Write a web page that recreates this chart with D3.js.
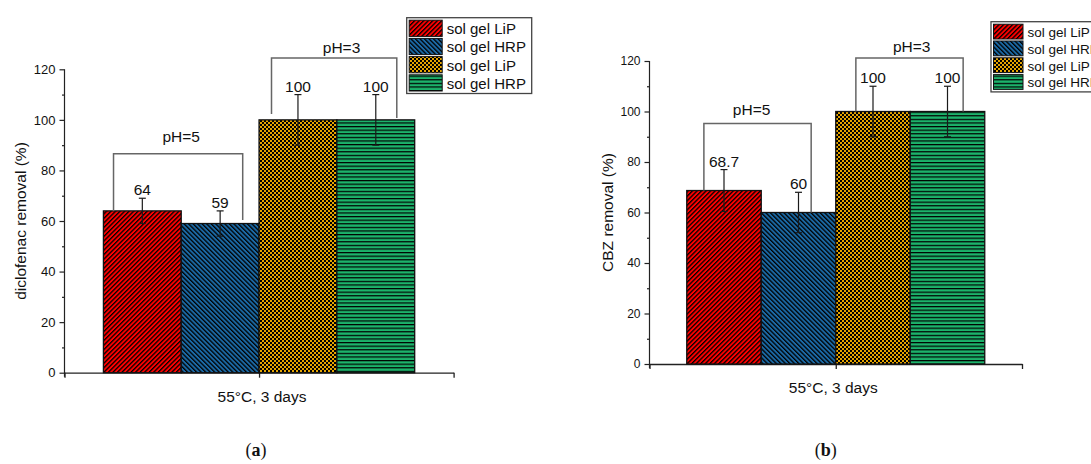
<!DOCTYPE html>
<html>
<head>
<meta charset="utf-8">
<script src="https://cdn.jsdelivr.net/npm/d3@7"></script>
<style>
  body { margin: 0; background: #fff; }
  text { font-family: "Liberation Sans", Arial, sans-serif; fill: #111; }
</style>
</head>
<body>
<div id="drawing_region"></div>
<script>
// ---- data ----
const seriesNames = ["sol gel LiP", "sol gel HRP", "sol gel LiP", "sol gel HRP"];
const groupLabel = "55\u00B0C, 3 days";
const dicloValues = [64, 59, 100, 100];
const dicloErrors = [5, 5, 10, 10];
const dicloLabels = ["64", "59", "100", "100"];
const cbzValues = [68.7, 60, 100, 100];
const cbzErrors = [8.3, 8, 10, 10];
const cbzLabels = ["68.7", "60", "100", "100"];
const majorTicks = [0, 20, 40, 60, 80, 100, 120];
const minorTicks = [10, 30, 50, 70, 90, 110];
const phLabels = ["pH=5", "pH=3"];

const fills = ["#ff0000", "#1b6aa6", "#e5a400", "#1cb36b"];
const patternIds = ["pRed", "pBlue", "pGold", "pGreen"];

const W = 1091, H = 464;
const svg = d3.select("#drawing_region").append("svg")
    .attr("width", W).attr("height", H);
svg.append("rect").attr("width", W).attr("height", H).attr("fill", "#fff");

// ---- hatch patterns ----
const defs = svg.append("defs");
function stripes(id, color, angle, period, lw) {
    const p = defs.append("pattern").attr("id", id)
        .attr("patternUnits", "userSpaceOnUse")
        .attr("width", period).attr("height", period)
        .attr("patternTransform", `rotate(${angle})`);
    p.append("rect").attr("width", period).attr("height", period).attr("fill", color);
    p.append("rect").attr("width", lw).attr("height", period).attr("fill", "#000");
}
stripes("pRed", fills[0], 45, 3.2, 1.3);
stripes("pBlue", fills[1], -45, 3.2, 1.3);
stripes("pGreen", fills[3], 90, 3.6, 1.2);
{
    const p = defs.append("pattern").attr("id", "pGold")
        .attr("patternUnits", "userSpaceOnUse")
        .attr("width", 4).attr("height", 4);
    p.append("rect").attr("width", 4).attr("height", 4).attr("fill", fills[2]);
    p.append("rect").attr("width", 2).attr("height", 2).attr("fill", "#000");
    p.append("rect").attr("x", 2).attr("y", 2).attr("width", 2).attr("height", 2).attr("fill", "#000");
}

function drawPanel(cfg) {
    const g = svg.append("g");
    const y = d3.scaleLinear().domain([0, 120]).range([cfg.bottom, cfg.top]);
    const xAxisScale = d3.scaleLinear().domain([0, 1]).range([cfg.left, cfg.right]);
    const bx = d3.scaleLinear().domain([-0.5, 4.5]).range([cfg.left, cfg.right]);
    const band = d3.scaleBand().domain(d3.range(4)).range([bx(0), bx(4)]).padding(0);

    // y axis
    const ya = g.append("g").attr("transform", `translate(${cfg.left},0)`)
        .call(d3.axisLeft(y).tickValues(majorTicks).tickSize(5).tickPadding(4).tickSizeOuter(0));
    ya.selectAll("text").style("font-size", cfg.tickFont + "px")
        .style("font-family", "'Liberation Sans', Arial, sans-serif").attr("fill", "#222");
    g.append("g").attr("transform", `translate(${cfg.left},0)`)
        .call(d3.axisLeft(y).tickValues(minorTicks).tickSize(2.5).tickFormat("").tickSizeOuter(0))
        .select(".domain").remove();
    ya.select(".domain").attr("d", `M0,${cfg.bottom + 4}V${cfg.top}`);
    g.selectAll(".domain, .tick line").attr("stroke", "#222").attr("stroke-width", 1.2);

    // x axis
    const xa = g.append("g").attr("transform", `translate(0,${cfg.bottom})`)
        .call(d3.axisBottom(xAxisScale).tickValues([0, 0.5, 1]).tickFormat("").tickSize(5).tickSizeOuter(0));
    xa.selectAll(".domain, .tick line").attr("stroke", "#222").attr("stroke-width", 1.3);

    // bars
    g.selectAll("rect.bar").data(cfg.values).enter().append("rect")
        .attr("class", "bar")
        .attr("x", (d, i) => band(i))
        .attr("y", d => y(d))
        .attr("width", band.bandwidth())
        .attr("height", d => y(0) - y(d))
        .attr("fill", (d, i) => `url(#${patternIds[i]})`)
        .attr("stroke", "#111").attr("stroke-width", 1.3);

    // error bars
    const eb = g.selectAll("g.err").data(cfg.values).enter().append("g").attr("class", "err");
    const cx = i => band(i) + band.bandwidth() / 2;
    eb.append("line")
        .attr("x1", (d, i) => cx(i)).attr("x2", (d, i) => cx(i))
        .attr("y1", (d, i) => y(d + cfg.errors[i])).attr("y2", (d, i) => y(d - cfg.errors[i]));
    eb.append("line")
        .attr("x1", (d, i) => cx(i) - 3.5).attr("x2", (d, i) => cx(i) + 3.5)
        .attr("y1", (d, i) => y(d + cfg.errors[i])).attr("y2", (d, i) => y(d + cfg.errors[i]));
    eb.append("line")
        .attr("x1", (d, i) => cx(i) - 3.5).attr("x2", (d, i) => cx(i) + 3.5)
        .attr("y1", (d, i) => y(d - cfg.errors[i])).attr("y2", (d, i) => y(d - cfg.errors[i]));
    eb.selectAll("line").attr("stroke", "#1a1a1a").attr("stroke-width", 1.2);

    // value labels
    g.selectAll("text.val").data(cfg.values).enter().append("text")
        .attr("class", "val")
        .attr("x", (d, i) => cx(i))
        .attr("y", (d, i) => y(d + cfg.errors[i]) - 3)
        .attr("text-anchor", "middle")
        .style("font-size", "15.5px")
        .text((d, i) => cfg.labels[i]);

    // pH brackets
    const bxs = d3.scaleLinear().domain([0, 4]).range([bx(0), bx(4)]);
    cfg.brackets.forEach((b, k) => {
        g.append("path")
            .attr("d", `M${bxs(b.x0)},${y(b.l)}V${y(b.top)}H${bxs(b.x1)}V${y(b.r)}`)
            .attr("fill", "none").attr("stroke", "#666").attr("stroke-width", 1.5);
        g.append("text")
            .attr("x", bxs(b.tx)).attr("y", y(b.top) - b.gap)
            .attr("text-anchor", "middle").style("font-size", "15.5px")
            .text(phLabels[k]);
    });

    // axis titles
    g.append("text")
        .attr("transform", `translate(${cfg.ytX},${(cfg.top + cfg.bottom) / 2}) rotate(-90)`)
        .attr("text-anchor", "middle").style("font-size", "15.5px")
        .text(cfg.yTitle);
    g.append("text")
        .attr("x", xAxisScale(0.5) + cfg.xtDx).attr("y", cfg.bottom + 29)
        .attr("text-anchor", "middle").style("font-size", "15.5px")
        .text(groupLabel);

    // legend
    const L = cfg.legend;
    g.append("rect")
        .attr("x", L.x).attr("y", L.y).attr("width", L.w).attr("height", L.rowH * 4 + 3)
        .attr("fill", "#fff").attr("stroke", "#444").attr("stroke-width", 1.3);
    seriesNames.forEach((name, i) => {
        const ry = L.y + 2 + i * L.rowH;
        g.append("rect")
            .attr("x", L.x + 2.5).attr("y", ry + 0.5)
            .attr("width", L.sw).attr("height", L.rowH - 2)
            .attr("fill", `url(#${patternIds[i]})`)
            .attr("stroke", "#111").attr("stroke-width", 1);
        g.append("text")
            .attr("x", L.x + L.sw + 7).attr("y", ry + L.rowH / 2 + L.font * 0.36)
            .style("font-size", L.font + "px")
            .text(name);
    });

    // caption
    const cap = svg.append("text")
        .attr("x", xAxisScale(0.5) + cfg.capDx).attr("y", 456)
        .attr("text-anchor", "middle")
        .style("font-family", "'Liberation Serif', 'DejaVu Serif', serif")
        .style("font-size", "18px");
    cap.append("tspan").text("(");
    cap.append("tspan").style("font-weight", "bold").text(cfg.caption);
    cap.append("tspan").text(")");
}

drawPanel({
    left: 64.5, right: 453.6, top: 69.3, bottom: 372.7,
    tickFont: 13, ytX: 26, xtDx: 3, capDx: -3, caption: "a",
    values: dicloValues, errors: dicloErrors, labels: dicloLabels,
    yTitle: "diclofenac removal (%)",
    brackets: [
        { x0: 0.13, x1: 1.79, top: 86.6, l: 64, r: 60.4, tx: 1.0, gap: 12 },
        { x0: 2.16, x1: 3.77, top: 124.5, l: 102.3, r: 100.7, tx: 3.06, gap: 4.7 }
    ],
    legend: { x: 406.7, y: 17.7, w: 125, rowH: 18.2, sw: 33, font: 15 }
});

drawPanel({
    left: 649.5, right: 1022, top: 61, bottom: 364,
    tickFont: 12, ytX: 613, xtDx: -2.5, capDx: -10, caption: "b",
    values: cbzValues, errors: cbzErrors, labels: cbzLabels,
    yTitle: "CBZ removal (%)",
    brackets: [
        { x0: 0.23, x1: 1.67, top: 95.2, l: 68.7, r: 60, tx: 0.87, gap: 8.5 },
        { x0: 2.27, x1: 3.71, top: 121.2, l: 100, r: 100, tx: 3.02, gap: 6 }
    ],
    legend: { x: 991, y: 21.7, w: 110, rowH: 16.8, sw: 29.5, font: 13.5 }
});
</script>
</body>
</html>
